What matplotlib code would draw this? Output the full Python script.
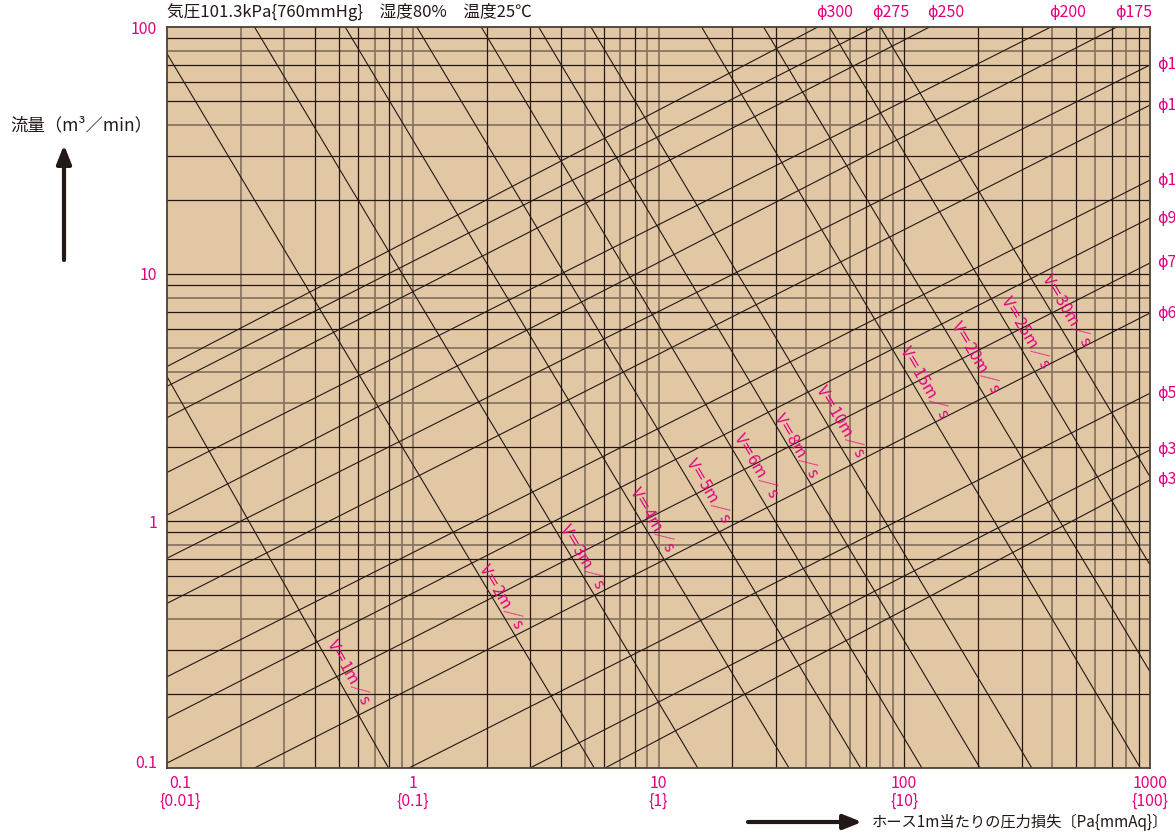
import numpy as np
import matplotlib
matplotlib.use("Agg")
import matplotlib.pyplot as plt
from matplotlib.ticker import NullLocator
from matplotlib.transforms import offset_copy, ScaledTranslation

plt.rcParams['font.family'] = ['Noto Sans CJK JP', 'DejaVu Sans']

MAGENTA = '#e4007f'
INK = '#231815'
TAN = '#e2c7a5'
GRAY = '#8a7662'

# hose diameter lines, end points (pressure loss Pa, flow m3/min)
dia_names = ["ϕ300", "ϕ275", "ϕ250", "ϕ200", "ϕ175", "ϕ150", "ϕ125",
             "ϕ100", "ϕ90", "ϕ75", "ϕ65", "ϕ50", "ϕ38", "ϕ32"]
dia_dp0 = [0.1, 0.1, 0.1, 0.1, 0.1, 0.1, 0.1, 0.1, 0.1, 0.1, 0.227, 0.965, 3.0, 6.06]
dia_q0 = [4.22, 3.51, 2.62, 1.572, 1.057, 0.707, 0.464, 0.234, 0.159, 0.1047,
          0.1, 0.1, 0.1, 0.1]
dia_dp1 = [44.5, 75.3, 126.8, 395, 732, 1000, 1000, 1000, 1000, 1000, 1000,
           1000, 1000, 1000]
dia_q1 = [100, 100, 100, 100, 100, 70.2, 48.3, 24.0, 16.85, 11.08, 6.95,
          3.29, 1.94, 1.466]

# air velocity lines (m/s)
vel = [1, 2, 3, 4, 5, 6, 8, 10, 15, 20, 25, 30]
vel_dp0 = [0.1, 0.1, 0.227, 0.531, 1.039, 1.901, 3.254, 5.31, 14.98, 26.77, 49.6, 80.0]
vel_q0 = [3.84, 78.0, 100, 100, 100, 100, 100, 100, 100, 100, 100, 100]
vel_dp1 = [0.797, 5.48, 14.45, 33.96, 66.4, 118.0, 203.3, 330.4, 914, 1000, 1000, 1000]
vel_q1 = [0.1, 0.1, 0.1, 0.1, 0.1, 0.1, 0.1, 0.1, 0.1, 0.2454, 0.6637, 1.512]
# where the velocity labels sit
vel_lab_dp = [0.550, 2.307, 4.93, 9.50, 16.05, 25.17, 36.6, 55.3, 121.5, 195.9, 312.9, 459.6]
vel_lab_q = [0.2446, 0.4925, 0.7149, 1.009, 1.323, 1.670, 2.012, 2.516, 3.62, 4.57, 5.77, 7.08]

# grid lines (the print has two tones)
x_gray = [0.2, 0.3, 0.7, 0.9, 1, 5, 7, 9, 10, 40, 50, 60, 80, 90, 400, 600, 800]
x_black = [0.4, 0.5, 0.6, 0.8, 2, 3, 4, 6, 8, 20, 30, 70, 100, 200, 300, 500, 700, 900]
y_gray = [80, 40, 8, 5, 4, 3, 0.8, 0.4]
y_black = [90, 70, 60, 50, 30, 20, 10, 9, 7, 6, 2, 1, 0.9, 0.7, 0.6, 0.5, 0.3, 0.2]

x_ticks = [0.1, 1, 10, 100, 1000]
x_pa = ["0.1", "1", "10", "100", "1000"]
x_mmaq = ["0.01", "0.1", "1", "10", "100"]
y_ticks = [0.1, 1, 10, 100]
y_labels = ["0.1", "1", "10", "100"]

W, H = 1175, 839
fig = plt.figure(figsize=(W / 100, H / 100), dpi=100)
ax = fig.add_axes([167 / W, 1 - 768 / H, 983 / W, 741 / H])
ax.set_xscale('log')
ax.set_yscale('log')
ax.set_xlim(0.1, 1000)
ax.set_ylim(0.1, 100)
ax.set_facecolor(TAN)

for v in x_gray:
    ax.axvline(v, color=GRAY, lw=1.3, zorder=1)
for v in x_black:
    ax.axvline(v, color=INK, lw=0.9, zorder=1.2)
for v in y_gray:
    ax.axhline(v, color=GRAY, lw=1.3, zorder=1)
for v in y_black:
    ax.axhline(v, color=INK, lw=0.9, zorder=1.2)

for i in range(len(dia_names)):
    ax.plot([dia_dp0[i], dia_dp1[i]], [dia_q0[i], dia_q1[i]], color=INK, lw=0.8, zorder=3)
    if dia_q1[i] >= 100:
        tr = offset_copy(ax.transData, fig=fig, x=-2, y=15, units='dots')
    else:
        tr = offset_copy(ax.transData, fig=fig, x=7, y=0, units='dots')
    ax.text(dia_dp1[i], dia_q1[i], dia_names[i], transform=tr, ha='left', va='center',
            color=MAGENTA, fontsize=11.5, clip_on=False)

for i in range(len(vel)):
    ax.plot([vel_dp0[i], vel_dp1[i]], [vel_q0[i], vel_q1[i]], color=INK, lw=0.8, zorder=3)
    p0 = ax.transData.transform((vel_dp0[i], vel_q0[i]))
    p1 = ax.transData.transform((vel_dp1[i], vel_q1[i]))
    ang = np.degrees(np.arctan2(p1[1] - p0[1], p1[0] - p0[0]))
    ax.text(vel_lab_dp[i], vel_lab_q[i], f"V＝{vel[i]}m／s", rotation=ang,
            rotation_mode='anchor', ha='center', va='center', color=MAGENTA,
            fontsize=11.5, zorder=4)

ax.xaxis.set_minor_locator(NullLocator())
ax.yaxis.set_minor_locator(NullLocator())
ax.set_xticks(x_ticks)
ax.set_xticklabels([f"{a}\n{{{b}}}" for a, b in zip(x_pa, x_mmaq)])
ax.set_yticks(y_ticks)
ax.set_yticklabels(y_labels)
ax.tick_params(axis='both', length=0, colors=MAGENTA, labelsize=11.5)
ax.tick_params(axis='x', pad=5)
ax.tick_params(axis='y', pad=7)
for lab in ax.get_xticklabels():
    lab.set_linespacing(1.1)
first = ax.get_xticklabels()[0]
first.set_transform(first.get_transform() + ScaledTranslation(0.13, 0, fig.dpi_scale_trans))
ylab0 = ax.get_yticklabels()[0]
ylab0.set_transform(ylab0.get_transform() + ScaledTranslation(0, 0.06, fig.dpi_scale_trans))

for s in ax.spines.values():
    s.set_color('#4b4037')
    s.set_linewidth(1.3)
    s.set_zorder(5)

fig.text(167 / W, 1 - 12 / H, "気圧101.3kPa{760mmHg}　湿度80%　温度25℃",
         ha='left', va='center', fontsize=12, color=INK)
fig.text(10 / W, 1 - 125 / H, "流量（m³／min）", ha='left', va='center',
         fontsize=12.5, color=INK)
fig.text(872 / W, 1 - 822 / H, "ホース1m当たりの圧力損失〔Pa{mmAq}〕", ha='left',
         va='center', fontsize=11, color=INK)

arrow = dict(arrowstyle='-|>,head_length=0.55,head_width=0.22', lw=3,
             color=INK, mutation_scale=20, shrinkA=0, shrinkB=0)
fig.add_artist(plt.Annotation("", xy=(64, H - 145), xytext=(64, H - 260),
                              xycoords='figure pixels', textcoords='figure pixels',
                              arrowprops=arrow))
fig.add_artist(plt.Annotation("", xy=(862, H - 822), xytext=(748, H - 822),
                              xycoords='figure pixels', textcoords='figure pixels',
                              arrowprops=arrow))

fig.savefig("out.png", dpi=100)
